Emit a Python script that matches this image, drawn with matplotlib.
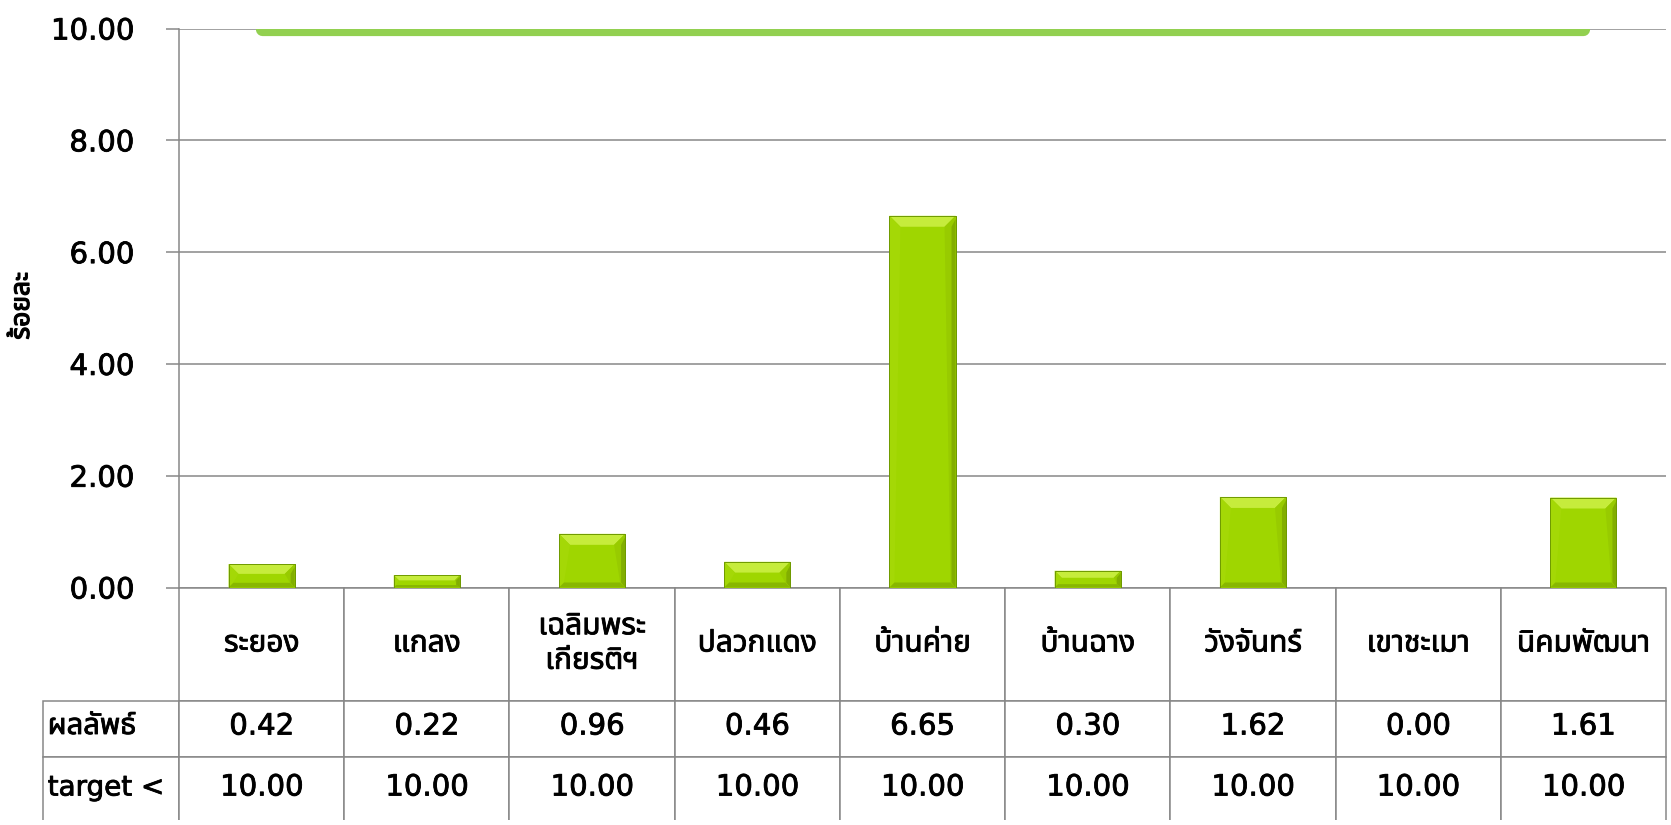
import matplotlib
matplotlib.use("Agg")
import matplotlib.pyplot as plt
import matplotlib.patheffects as pe
from matplotlib import font_manager as fm
from matplotlib.ft2font import FT2Font
from matplotlib.patches import Polygon

# ---------------- data ----------------
categories = ["ระยอง", "แกลง", "เฉลิมพระ\nเกียรติฯ", "ปลวกแดง", "บ้านค่าย",
              "บ้านฉาง", "วังจันทร์", "เขาชะเมา", "นิคมพัฒนา"]
results = [0.42, 0.22, 0.96, 0.46, 6.65, 0.30, 1.62, 0.00, 1.61]
targets = [10.00] * 9
row_labels = ["", "ผลลัพธ์", "target <"]
y_ticks = [0, 2, 4, 6, 8, 10]
y_label = "ร้อยละ"


# ---------------- fonts ----------------
def find_thai_font():
    prefs = ["Noto Sans Thai", "Noto Sans Thai UI", "Loma", "Garuda", "Sarabun",
             "Kinnari", "Norasi", "Waree", "Umpush", "Laksaman"]
    found = []
    for fe in fm.fontManager.ttflist:
        try:
            cmap = FT2Font(fe.fname).get_charmap()
        except Exception:
            continue
        if 0x0E23 in cmap and 0x0E2D in cmap:
            found.append(fe.name)
    for p in prefs:
        if p in found:
            return p
    return found[0] if found else None


thai = find_thai_font()
latin = "DejaVu Sans"
thai_fam = [thai, latin] if thai else [latin]
num_fam = [latin] + ([thai] if thai else [])
plt.rcParams["font.family"] = num_fam

heavy = [pe.withStroke(linewidth=0.6, foreground="black")]

W, H, DPI = 1671, 825, 100
fig = plt.figure(figsize=(W / DPI, H / DPI), dpi=DPI)
fig.patch.set_facecolor("white")

# axes placement (pixels)
ax_l, ax_r, ax_t, ax_b = 179, 1666, 28.5, 587.5
ax = fig.add_axes([ax_l / W, 1 - ax_b / H, (ax_r - ax_l) / W, (ax_b - ax_t) / H])
ax.set_xlim(-0.5, len(categories) - 0.5)
ax.set_ylim(0, 10)

grid_col = "#878787"
ax.set_yticks(y_ticks)
ax.set_yticklabels([f"{v:.2f}" for v in y_ticks], fontsize=21, family=num_fam)
for lbl in ax.get_yticklabels():
    lbl.set_path_effects(heavy)
ax.yaxis.grid(True, color=grid_col, linewidth=1.1)
ax.set_axisbelow(True)
ax.tick_params(axis="y", direction="out", length=9.4, width=1.1, color=grid_col, pad=23)
ax.tick_params(axis="x", bottom=False, labelbottom=False)
for s in ["top", "right", "bottom"]:
    ax.spines[s].set_visible(False)
ax.spines["left"].set_color(grid_col)
ax.spines["left"].set_linewidth(1.1)

# ---------------- bars with bevel ----------------
x = list(range(len(categories)))
bw = 0.40
body = "#9FD600"
bars = ax.bar(x, results, width=bw, color=body, edgecolor="#6F9A00", linewidth=0.6, zorder=3)

px_x = (ax_r - ax_l) / len(categories)   # pixels per x unit
px_y = (ax_b - ax_t) / 10.0              # pixels per y unit
for b in bars:
    h = b.get_height()
    if h <= 0:
        continue
    x0, x1 = b.get_x(), b.get_x() + b.get_width()
    hpx = h * px_y
    d = min(11.0, hpx * 0.42)
    dx, dy = d / px_x, d / px_y
    ds = min(5.0, hpx * 0.2)
    db = ds / px_y
    dbx = ds / px_x
    dr = min(4.0, hpx * 0.3) / px_x
    polys = [
        ([(x0, h), (x1, h), (x1 - dx, h - dy), (x0 + dx, h - dy)], "#C6EC3C"),
        ([(x0, 0), (x0, h), (x0 + dx, h - dy), (x0 + dbx, db)], "#A4D806"),
        ([(x1, 0), (x1, h), (x1 - dx, h - dy), (x1 - dbx, db)], "#98CB00"),
        ([(x1, 0), (x1, h - dy * 0.3), (x1 - dr, h - dy), (x1 - dr, db)], "#82AE00"),
        ([(x0, 0), (x1, 0), (x1 - dbx, db), (x0 + dbx, db)], "#88B700"),
    ]
    for pts, c in polys:
        ax.add_patch(Polygon(pts, closed=True, facecolor=c, edgecolor="none", zorder=3.5))
    ax.add_patch(Polygon([(x0, 0), (x0, h), (x1, h), (x1, 0)], closed=True,
                         facecolor="none", edgecolor="#6F9A00", linewidth=0.7, zorder=3.6))

# ---------------- target line ----------------
ax.plot(x, targets, color="#92D050", linewidth=9.5, solid_capstyle="round",
        zorder=4, clip_on=True)

# ---------------- y label ----------------
fig.text(22 / W, 1 - 306 / H, y_label, rotation=90, ha="center", va="center",
         fontsize=19, fontweight="bold", family=thai_fam,
         path_effects=[pe.withStroke(linewidth=0.9, foreground="black")])

# ---------------- data table (grid) ----------------
tab_left = 42.7
ax_h = ax_b - ax_t
ax_w = ax_r - ax_l
label_w = (ax_l - tab_left) / ax_w
col_w = 1.0 / len(categories)
row_h_px = [113.0, 56.0, 63.0]
row_h = [r / ax_h for r in row_h_px]
ncol = len(categories) + 1
tbl = ax.table(cellText=[[""] * ncol for _ in range(3)],
               bbox=[-label_w, -sum(row_h), 1 + label_w, sum(row_h)])
for (r, c), cell in tbl.get_celld().items():
    cell.set_width(label_w if c == 0 else col_w)
    cell.set_height(row_h[r])
    cell.set_edgecolor(grid_col)
    cell.set_linewidth(1.1)
    if r == 0 and c == 0:
        cell.visible_edges = "open"
    elif r == 2:
        cell.visible_edges = "LRT"

# ---------------- table texts ----------------
row_y = [-row_h[0] / 2,
         -(row_h[0] + row_h[1] / 2) + 2 / ax_h,
         -(row_h[0] + row_h[1]) - 31 / ax_h]
tr = ax.transAxes
for i, cat in enumerate(categories):
    cx = (i + 0.5) * col_w
    ax.text(cx, row_y[0], cat, transform=tr, ha="center", va="center",
            fontsize=21.5, family=thai_fam, linespacing=1.25, path_effects=heavy)
    ax.text(cx, row_y[1], f"{results[i]:.2f}", transform=tr, ha="center",
            va="center", fontsize=21, family=num_fam, path_effects=heavy)
    ax.text(cx, row_y[2], f"{targets[i]:.2f}", transform=tr, ha="center",
            va="center", fontsize=21, family=num_fam, path_effects=heavy)
lx = -label_w + 5 / ax_w
ax.text(lx, row_y[1], row_labels[1], transform=tr, ha="left", va="center",
        fontsize=21, family=thai_fam, path_effects=heavy)
ax.text(lx, row_y[2], row_labels[2], transform=tr, ha="left", va="center",
        fontsize=20, family=num_fam, path_effects=heavy)

fig.savefig("out.png", dpi=DPI, facecolor="white")
